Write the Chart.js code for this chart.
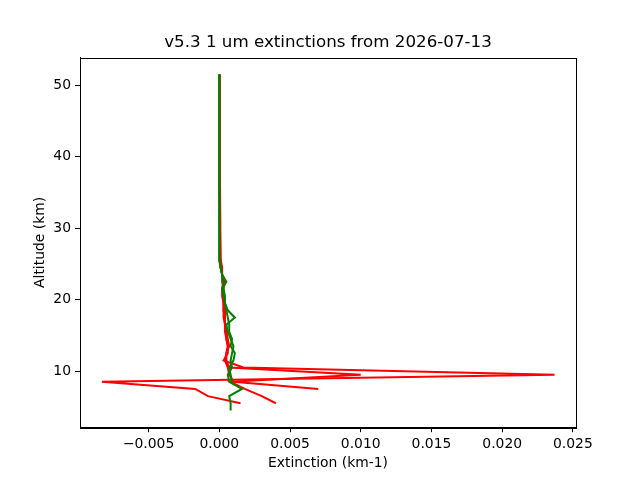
<!DOCTYPE html>
<html>
<head>
<meta charset="utf-8">
<script src="https://cdn.jsdelivr.net/npm/chart.js@4.4.1/dist/chart.umd.min.js"></script>
<style>
  body { margin: 0; background: #fff; }
  #chart { display: block; }
</style>
</head>
<body>
<canvas id="chart" width="640" height="480"></canvas>
<script>
// profile data: altitude (km) and extinction (km-1)
const redAltA = [5.5, 6.5, 7.5, 8.5, 9.5, 10.5, 11.5, 12.5, 13.5, 14.5, 15.5, 16.5, 17.5, 18.5, 19.5, 20.5, 21.5, 22.5, 23.5, 24.5, 25.5, 30.5, 35.5, 40.5, 45.5, 51.5];
const redExtA = [0.0015, -0.0008, -0.0017, -0.0083, 0.0237, 0.0017, 0.0003, 0.0006, 0.0006, 0.0005, 0.0005, 0.0004, 0.0004, 0.0004, 0.0003, 0.0003, 0.0003, 0.0004, 0.0002, 0.0002, 0.0001, 0.00005, 0.00004, 0.00003, 0.00002, 0.00002];

const redAltB = [5.5, 6.5, 7.5, 8.5, 9.5, 10.5, 11.5, 12.5, 13.5, 14.5, 15.5, 16.5, 17.5, 18.5, 19.5, 20.5, 21.5, 22.5, 23.5, 24.5, 25.5, 30.5, 40.5, 51.5];
const redExtB = [0.0040, 0.0030, 0.0018, 0.0008, 0.0100, 0.0007, 0.0005, 0.0005, 0.0007, 0.0006, 0.0005, 0.0004, 0.0004, 0.0003, 0.0003, 0.0003, 0.0002, 0.0003, 0.0002, 0.0001, 0.0001, 0.00005, 0.00003, 0.00002];

const redAltC = [7.5, 8.5, 9.5, 10.5, 11.5, 12.5, 13.5, 14.5, 15.5, 16.5, 17.5, 18.5, 19.5, 20.5, 21.5, 22.5, 23.5, 24.5, 25.5, 30.5, 40.5, 51.5];
const redExtC = [0.0070, 0.0010, 0.0007, 0.0006, 0.0004, 0.0005, 0.0006, 0.0005, 0.0004, 0.0004, 0.0003, 0.0003, 0.0003, 0.0002, 0.0002, 0.0003, 0.0002, 0.0001, 0.0001, 0.00004, 0.00003, 0.00002];

const greenAltA = [4.5, 5.5, 6.5, 7.5, 8.5, 9.5, 10.5, 11.5, 12.5, 13.5, 14.5, 15.5, 16.5, 17.5, 18.5, 19.5, 20.5, 21.5, 22.5, 23.5, 24.5, 25.5, 30.5, 40.5, 51.5];
const greenExtA = [0.0008, 0.0008, 0.0007, 0.0016, 0.0007, 0.0006, 0.0009, 0.0008, 0.0009, 0.0010, 0.0008, 0.0006, 0.0005, 0.0011, 0.0006, 0.0004, 0.0003, 0.0002, 0.0005, 0.0002, 0.0001, 0.0000, 0.0000, 0.0000, 0.0000];

const greenAltB = [8.5, 9.5, 10.5, 11.5, 12.5, 13.5, 14.5, 15.5, 16.5, 17.5, 18.5, 19.5, 20.5, 21.5, 22.5, 23.5, 24.5, 25.5, 30.5, 40.5, 51.5];
const greenExtB = [0.0009, 0.0008, 0.0007, 0.0010, 0.0011, 0.0008, 0.0009, 0.0007, 0.0007, 0.0006, 0.0005, 0.0004, 0.0004, 0.0003, 0.0002, 0.0002, 0.0001, 0.0000, 0.0000, 0.0000, 0.0000];

const xTicks = [-0.005, 0.000, 0.005, 0.010, 0.015, 0.020, 0.025];
const yTicks = [10, 20, 30, 40, 50];

const FONT = 'DejaVu Sans';

const toPoints = (alt, ext) => ext.map((x, i) => ({ x: x, y: alt[i] }));

const line = (label, alt, ext, color, order) => ({
  label: label,
  data: toPoints(alt, ext),
  borderColor: color,
  backgroundColor: color,
  borderWidth: 2,
  pointRadius: 0,
  showLine: true,
  fill: false,
  tension: 0,
  order: order,
});

// matplotlib-style box around the plot area
const frame = {
  id: 'frame',
  afterDraw(chart) {
    const { ctx, chartArea: a } = chart;
    ctx.save();
    ctx.strokeStyle = '#000';
    ctx.lineWidth = 1;
    ctx.strokeRect(Math.round(a.left) + 0.5, Math.round(a.top) + 0.5,
      Math.round(a.right - a.left), Math.round(a.bottom - a.top));
    ctx.restore();
  },
};

const tickGrid = { display: true, drawOnChartArea: false, drawTicks: true, tickLength: 5, color: '#000', lineWidth: 1 };

new Chart(document.getElementById('chart').getContext('2d'), {
  type: 'scatter',
  data: {
    datasets: [
      line('red A', redAltA, redExtA, '#ff0000', 2),
      line('red B', redAltB, redExtB, '#ff0000', 2),
      line('red C', redAltC, redExtC, '#ff0000', 2),
      line('green A', greenAltA, greenExtA, '#008000', 1),
      line('green B', greenAltB, greenExtB, '#008000', 1),
    ],
  },
  options: {
    responsive: false,
    animation: false,
    layout: { padding: { left: 16, right: 0, top: 0, bottom: 0 } },
    plugins: {
      legend: { display: false },
      tooltip: { enabled: false },
      title: {
        display: true,
        text: 'v5.3 1 um extinctions from 2026-07-13',
        color: '#000',
        font: { family: FONT, size: 16.7, weight: 'normal', lineHeight: 1.2 },
        padding: { top: 33, bottom: 4.6 },
      },
    },
    scales: {
      x: {
        type: 'linear',
        min: -0.00985,
        max: 0.02522,
        grid: tickGrid,
        border: { display: true, color: '#000', width: 1 },
        afterBuildTicks: (s) => { s.ticks = xTicks.map((v) => ({ value: v })); },
        afterFit: (s) => { s.height = 52.8; },
        ticks: {
          color: '#000',
          padding: 4,
          maxRotation: 0,
          font: { family: FONT, size: 13.9 },
          callback: (v) => (v < 0 ? '\u2212' : '') + Math.abs(v).toFixed(3),
        },
        title: {
          display: true,
          text: 'Extinction (km-1)',
          color: '#000',
          font: { family: FONT, size: 13.9 },
          padding: { top: 0, bottom: 8.7 },
        },
      },
      y: {
        type: 'linear',
        min: 2.15,
        max: 53.85,
        grid: tickGrid,
        border: { display: true, color: '#000', width: 1 },
        afterBuildTicks: (s) => { s.ticks = yTicks.map((v) => ({ value: v })); },
        afterFit: (s) => { s.width = 64; },
        ticks: {
          color: '#000',
          padding: 4,
          font: { family: FONT, size: 13.9 },
          callback: (v) => String(v),
        },
        title: {
          display: true,
          text: 'Altitude (km)',
          color: '#000',
          font: { family: FONT, size: 13.9 },
          padding: { top: 16, bottom: 0 },
        },
      },
      // empty right-hand strip so the plot area ends where the reference does
      yRight: {
        type: 'linear',
        position: 'right',
        min: 0,
        max: 1,
        grid: { display: false },
        border: { display: false },
        ticks: { display: false },
        afterFit: (s) => { s.width = 64; },
      },
    },
  },
  plugins: [frame],
});
</script>
</body>
</html>
